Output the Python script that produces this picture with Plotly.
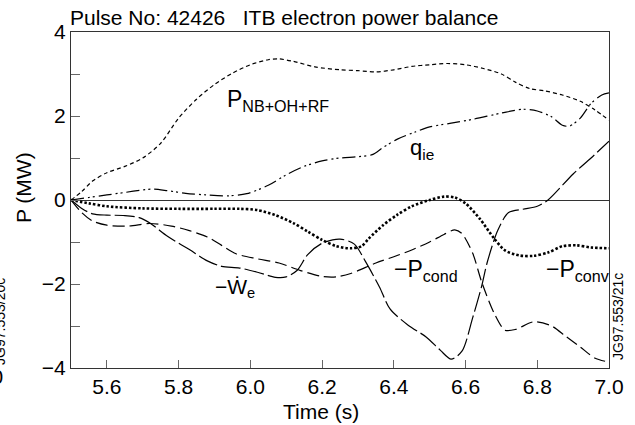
import plotly.graph_objects as go

# ---- data (time in s, power in MW) ----
t_nb = [5.5, 5.53, 5.56, 5.6, 5.65, 5.7, 5.75, 5.8, 5.85, 5.9, 5.95, 6.0, 6.05, 6.08, 6.12,
        6.18, 6.25, 6.3, 6.35, 6.4, 6.45, 6.5, 6.55, 6.6, 6.65, 6.7, 6.74, 6.78, 6.82, 6.87,
        6.92, 6.96, 7.0]
p_nb = [0.0, 0.2, 0.45, 0.65, 0.8, 1.0, 1.35, 1.95, 2.4, 2.75, 3.02, 3.22, 3.34, 3.36, 3.3,
        3.17, 3.1, 3.08, 3.05, 3.1, 3.18, 3.22, 3.25, 3.22, 3.13, 3.0, 2.8, 2.65, 2.6, 2.5,
        2.35, 2.15, 1.9]

t_qie = [5.5, 5.55, 5.6, 5.65, 5.7, 5.73, 5.77, 5.82, 5.88, 5.94, 5.99, 6.05, 6.1, 6.15, 6.2,
         6.25, 6.3, 6.34, 6.37, 6.41, 6.46, 6.5, 6.56, 6.62, 6.7, 6.76, 6.8, 6.84, 6.87, 6.89,
         6.92, 6.95, 6.98, 7.0]
q_ie = [0.0, 0.06, 0.12, 0.18, 0.24, 0.26, 0.22, 0.16, 0.12, 0.1, 0.15, 0.35, 0.6, 0.8, 0.93,
        1.0, 1.03, 1.08, 1.25, 1.45, 1.62, 1.74, 1.83, 1.92, 2.07, 2.16, 2.12, 1.98, 1.78, 1.76,
        1.95, 2.3, 2.5, 2.55]

t_conv = [5.5, 5.55, 5.6, 5.7, 5.8, 5.9, 5.97, 6.02, 6.07, 6.12, 6.16, 6.2, 6.24, 6.28, 6.31,
          6.33, 6.37, 6.41, 6.45, 6.5, 6.54, 6.57, 6.6, 6.64, 6.68, 6.71, 6.75, 6.79, 6.83,
          6.87, 6.91, 6.95, 7.0]
p_conv = [0.0, -0.08, -0.15, -0.2, -0.21, -0.21, -0.21, -0.24, -0.36, -0.55, -0.75, -0.95,
          -1.1, -1.15, -1.1, -0.92, -0.6, -0.35, -0.15, 0.0, 0.08, 0.06, -0.08, -0.45, -0.92,
          -1.2, -1.32, -1.33, -1.25, -1.1, -1.08, -1.13, -1.15]

t_we = [5.5, 5.53, 5.56, 5.6, 5.65, 5.69, 5.72, 5.77, 5.83, 5.88, 5.92, 5.97, 6.02, 6.07, 6.1,
        6.13, 6.16, 6.2, 6.25, 6.29, 6.32, 6.36, 6.39, 6.44, 6.49, 6.53, 6.56, 6.59, 6.62,
        6.645, 6.66, 6.69, 6.72, 6.76, 6.8, 6.83, 6.9, 6.95, 7.0]
w_e = [0.0, -0.2, -0.33, -0.36, -0.37, -0.42, -0.55, -0.87, -1.18, -1.45, -1.58, -1.62, -1.72,
       -1.84, -1.83, -1.68, -1.3, -1.03, -0.93, -1.05, -1.45, -2.07, -2.6, -2.98, -3.26,
       -3.58, -3.79, -3.6, -2.8, -2.05, -1.5, -0.72, -0.3, -0.22, -0.15, 0.0, 0.62, 1.0, 1.4]

t_cond = [5.5, 5.53, 5.56, 5.6, 5.66, 5.72, 5.78, 5.83, 5.88, 5.92, 5.96, 6.02, 6.08, 6.14,
          6.2, 6.24, 6.28, 6.35, 6.4, 6.45, 6.5, 6.54, 6.57, 6.59, 6.62, 6.645, 6.68, 6.71,
          6.74, 6.79, 6.84, 6.88, 6.92, 6.96, 7.0]
p_cond = [0.0, -0.3, -0.5, -0.6, -0.62, -0.56, -0.62, -0.73, -0.88, -1.08, -1.28, -1.4, -1.5,
          -1.68, -1.82, -1.83, -1.75, -1.5, -1.35, -1.19, -1.0, -0.82, -0.71, -0.8, -1.27,
          -1.95, -2.7, -3.1, -3.08, -2.9, -3.0, -3.25, -3.5, -3.76, -3.86]

x_ticks = [5.6, 5.8, 6.0, 6.2, 6.4, 6.6, 6.8, 7.0]
x_tick_labels = ["5.6", "5.8", "6.0", "6.2", "6.4", "6.6", "6.8", "7.0"]
y_ticks = [-4, -2, 0, 2, 4]
y_tick_labels = ["\u22124", "\u22122", "0", "2", "4"]

FONT = "Liberation Sans, Arial, sans-serif"

fig = go.Figure()

def add(t, v, dash, width=1.2):
    fig.add_trace(go.Scatter(x=t, y=v, mode="lines",
                             line=dict(color="black", width=width, dash=dash,
                                       shape="spline", smoothing=0.8),
                             hoverinfo="skip", showlegend=False))

add(t_nb, p_nb, "4px,3px")
add(t_qie, q_ie, "13px,4px,2px,3px,2px,4px")
add(t_conv, p_conv, "2.5px,2px", 2.6)
add(t_we, w_e, "20px,4px")
add(t_cond, p_cond, "12px,5px")

labels = [
    (5.929, 2.38, "P<sub>NB+OH+RF</sub>", 23),
    (6.44, 1.21, "q<sub>ie</sub>", 22),
    (6.395, -1.69, "\u2212P<sub>cond</sub>", 23),
    (6.82, -1.69, "\u2212P<sub>conv</sub>", 23),
    (5.896, -2.1, "\u2212\u1E86<sub>e</sub>", 21),
]
for x, y, txt, sz in labels:
    fig.add_annotation(x=x, y=y, xref="x", yref="y", text=txt, showarrow=False,
                       xanchor="left", yanchor="middle",
                       font=dict(family=FONT, size=sz, color="black"))

paper_texts = [
    (-0.0056, 1.042, "Pulse No: 42426\u00a0\u00a0\u00a0ITB electron power balance", 21, 0, "left"),
    (-0.087, 0.536, "P (MW)", 21, -90, "center"),
    (0.465, -0.128, "Time (s)", 21, 0, "center"),
    (1.0167, 0.155, "JG97.553/21c", 14, -90, "center"),
    (-0.132, 0.14, "JG97.553/20c", 14, -90, "center"),
    (-0.1227, -0.024, "7.0", 21, 0, "right"),
]
for x, y, txt, sz, ang, xa in paper_texts:
    fig.add_annotation(x=x, y=y, xref="paper", yref="paper", text=txt, showarrow=False,
                       xanchor=xa, yanchor="middle", textangle=ang,
                       font=dict(family=FONT, size=sz, color="black"))

fig.update_layout(
    width=635, height=425,
    margin=dict(l=71, r=26, t=32, b=57),
    paper_bgcolor="white", plot_bgcolor="white",
    font=dict(family=FONT, size=21, color="black"),
    showlegend=False,
)
fig.update_xaxes(range=[5.5, 7.0], tickvals=x_ticks, ticktext=x_tick_labels,
                 ticks="inside", ticklen=8, tickcolor="#666", tickwidth=1,
                 showline=True, linecolor="#333", linewidth=1, mirror=True,
                 showgrid=False, zeroline=False,
                 tickfont=dict(family=FONT, size=21, color="black"))
fig.update_yaxes(range=[-4, 4], tickvals=y_ticks, ticktext=y_tick_labels,
                 ticks="inside", ticklen=9, tickcolor="#666", tickwidth=1,
                 minor=dict(dtick=1, tick0=0, ticks="inside", ticklen=9, tickcolor="#666"),
                 showline=True, linecolor="#333", linewidth=1, mirror=True,
                 showgrid=False, zeroline=True, zerolinecolor="#333", zerolinewidth=1,
                 tickfont=dict(family=FONT, size=21, color="black"))

fig.write_html("out.html")
